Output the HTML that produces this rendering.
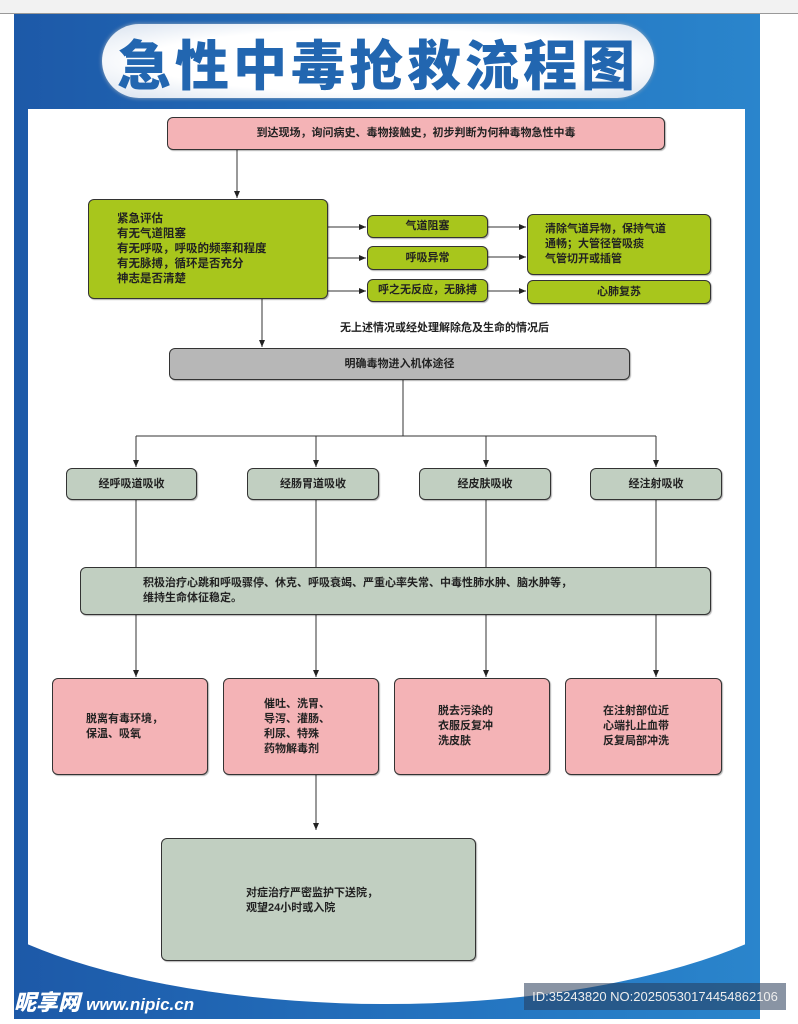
<!DOCTYPE html>
<html><head><meta charset="utf-8"><style>
*{margin:0;padding:0;box-sizing:border-box}
body{width:798px;height:1024px;position:relative;background:#fff;overflow:hidden;font-family:"Liberation Sans","Noto Sans CJK SC",sans-serif;font-weight:bold;color:#222}
.b{position:absolute;border:1px solid #333;border-radius:6px;font-size:11px;display:flex;align-items:center;justify-content:center;line-height:15px;box-shadow:1px 1px 1px rgba(0,0,0,.3)}
.pk{background:#f4b3b6}.gn{background:#a8c61c}.gy{background:#b7b7b7}.sg{background:#c1cfc1}
.l{justify-content:flex-start;text-align:left}
</style></head><body>
<div style="position:absolute;left:0;top:0;width:798px;height:14px;background:#f2f2f2;border-bottom:1px solid #999"></div>
<div style="position:absolute;left:14px;top:14px;width:746px;height:1005px;background:linear-gradient(90deg,#1d59a8,#2474c0 60%,#2a85cc)"></div>
<div style="position:absolute;left:28px;top:109px;width:717px;height:900px;overflow:hidden">
  <div style="position:absolute;left:0;top:0;width:717px;height:700px;background:#fff"></div>
  <div style="position:absolute;left:-110px;top:560px;width:937px;height:335px;border-radius:50%;background:#fff"></div>
</div>
<div style="position:absolute;left:102px;top:24px;width:552px;height:74px;border-radius:37px;background:radial-gradient(ellipse at center,#fff 60%,#d8e2ef 100%);box-shadow:0 0 4px #9ab"></div>
<div style="position:absolute;left:102px;top:24px;width:552px;height:74px;display:flex;align-items:center;justify-content:center;font-size:54px;letter-spacing:4px;color:#2266b0;font-family:'Noto Sans CJK SC',sans-serif;font-weight:900">急性中毒抢救流程图</div>
<div style="position:absolute;left:14px;top:985px;font-size:22px;color:#fff;font-style:italic;font-weight:900">昵享网 <span style="font-size:17px;font-family:'Liberation Sans',sans-serif">www.nipic.cn</span></div>
<div style="position:absolute;left:524px;top:983px;width:262px;height:27px;background:rgba(40,60,90,.55);color:#eee;font-weight:normal;font-size:13px;line-height:27px;text-align:center;font-family:'Liberation Sans Narrow','Liberation Sans',sans-serif">ID:35243820 NO:20250530174454862106</div>

<svg style="position:absolute;left:0;top:0" width="798" height="1024">
<defs><marker id="a" markerWidth="8" markerHeight="8" refX="7" refY="4" orient="auto" markerUnits="userSpaceOnUse"><path d="M0,1 L7,4 L0,7z" fill="#222"/></marker></defs>
<g stroke="#333" stroke-width="1" fill="none">
<path d="M237 150V198" marker-end="url(#a)"/>
<path d="M328 227H366" marker-end="url(#a)"/><path d="M328 258H366" marker-end="url(#a)"/><path d="M328 291H366" marker-end="url(#a)"/>
<path d="M488 227H526" marker-end="url(#a)"/><path d="M488 257H526" marker-end="url(#a)"/><path d="M488 291H526" marker-end="url(#a)"/>
<path d="M262 299V347" marker-end="url(#a)"/>
<path d="M403 380V436M136 436H656"/>
<path d="M136 436V467" marker-end="url(#a)"/><path d="M316 436V467" marker-end="url(#a)"/><path d="M486 436V467" marker-end="url(#a)"/><path d="M656 436V467" marker-end="url(#a)"/>
<path d="M136 500V567M316 500V567M486 500V567M656 500V567"/>
<path d="M136 615V677" marker-end="url(#a)"/><path d="M316 615V677" marker-end="url(#a)"/><path d="M486 615V677" marker-end="url(#a)"/><path d="M656 615V677" marker-end="url(#a)"/>
<path d="M316 775V830" marker-end="url(#a)"/>
</g></svg>

<div class="b pk" style="left:167px;top:117px;width:498px;height:33px">到达现场，询问病史、毒物接触史，初步判断为何种毒物急性中毒</div>
<div class="b gn l" style="left:88px;top:199px;width:240px;height:100px;padding-left:28px;font-size:11.5px">紧急评估<br>有无气道阻塞<br>有无呼吸，呼吸的频率和程度<br>有无脉搏，循环是否充分<br>神志是否清楚</div>
<div class="b gn" style="left:367px;top:215px;width:121px;height:23px">气道阻塞</div>
<div class="b gn" style="left:367px;top:246px;width:121px;height:24px">呼吸异常</div>
<div class="b gn" style="left:367px;top:279px;width:121px;height:23px">呼之无反应，无脉搏</div>
<div class="b gn l" style="left:527px;top:214px;width:184px;height:61px;padding-left:17px">清除气道异物，保持气道<br>通畅；大管径管吸痰<br>气管切开或插管</div>
<div class="b gn" style="left:527px;top:280px;width:184px;height:24px">心肺复苏</div>
<div style="position:absolute;left:340px;top:319px;font-size:11px">无上述情况或经处理解除危及生命的情况后</div>
<div class="b gy" style="left:169px;top:348px;width:461px;height:32px">明确毒物进入机体途径</div>
<div class="b sg" style="left:66px;top:468px;width:131px;height:32px">经呼吸道吸收</div>
<div class="b sg" style="left:247px;top:468px;width:132px;height:32px">经肠胃道吸收</div>
<div class="b sg" style="left:419px;top:468px;width:132px;height:32px">经皮肤吸收</div>
<div class="b sg" style="left:590px;top:468px;width:132px;height:32px">经注射吸收</div>
<div class="b sg l" style="left:80px;top:567px;width:631px;height:48px;padding-left:62px">积极治疗心跳和呼吸骤停、休克、呼吸衰竭、严重心率失常、中毒性肺水肿、脑水肿等，<br>维持生命体征稳定。</div>
<div class="b pk l" style="left:52px;top:678px;width:156px;height:97px;padding-left:33px">脱离有毒环境，<br>保温、吸氧</div>
<div class="b pk l" style="left:223px;top:678px;width:156px;height:97px;padding-left:40px">催吐、洗胃、<br>导泻、灌肠、<br>利尿、特殊<br>药物解毒剂</div>
<div class="b pk l" style="left:394px;top:678px;width:156px;height:97px;padding-left:43px">脱去污染的<br>衣服反复冲<br>洗皮肤</div>
<div class="b pk l" style="left:565px;top:678px;width:157px;height:97px;padding-left:37px">在注射部位近<br>心端扎止血带<br>反复局部冲洗</div>
<div class="b sg l" style="left:161px;top:838px;width:315px;height:123px;padding-left:84px;align-items:flex-start;padding-top:47px">对症治疗严密监护下送院，<br>观望24小时或入院</div>
</body></html>
